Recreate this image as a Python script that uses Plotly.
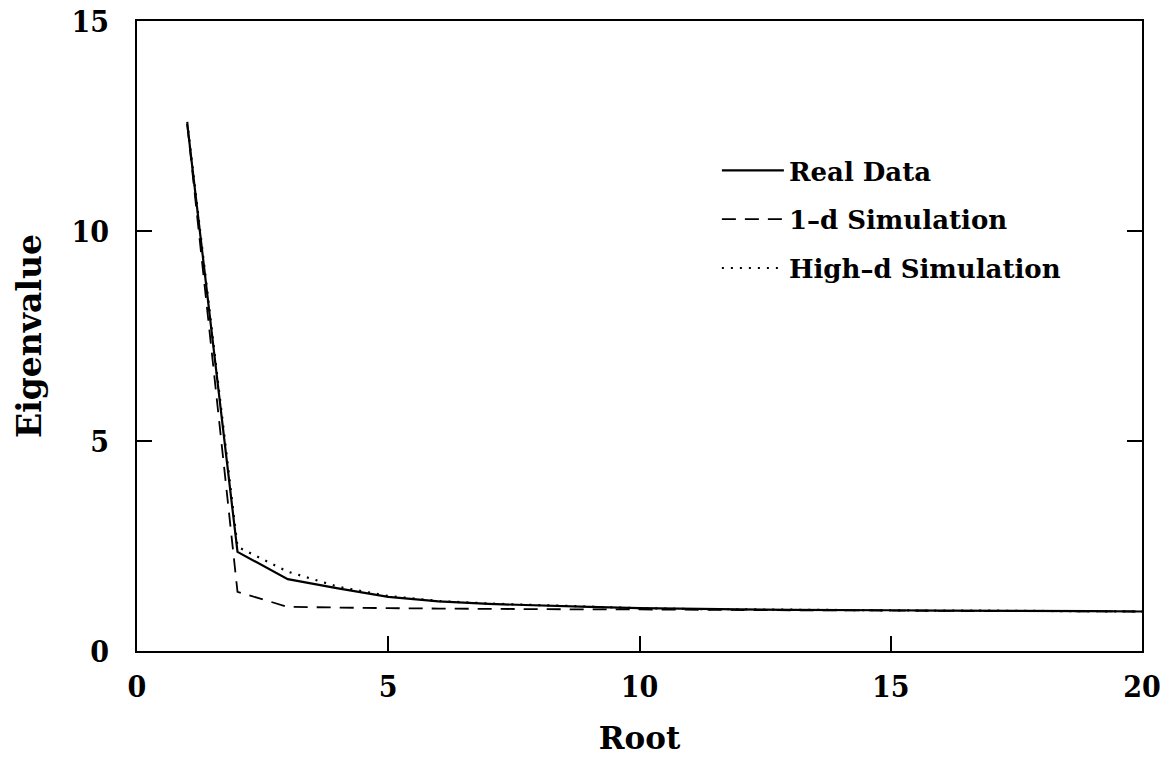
import plotly.graph_objects as go

roots = list(range(1, 21))
real_data = [12.55, 2.36, 1.71, 1.49, 1.29, 1.18, 1.12, 1.08, 1.05, 1.02,
             1.00, 0.99, 0.98, 0.98, 0.97, 0.96, 0.96, 0.95, 0.95, 0.94]
sim_1d = [12.55, 1.41, 1.05, 1.03, 1.02, 1.01, 1.00, 1.00, 0.99, 0.99,
          0.98, 0.98, 0.97, 0.97, 0.96, 0.96, 0.95, 0.95, 0.94, 0.94]
sim_highd = [12.6, 2.48, 1.89, 1.53, 1.31, 1.19, 1.13, 1.09, 1.05, 1.02,
             1.00, 0.99, 0.98, 0.98, 0.97, 0.96, 0.96, 0.95, 0.95, 0.94]

x_ticks = [0, 5, 10, 15, 20]
y_ticks = [0, 5, 10, 15]

FONT = "DejaVu Serif"
TICKFONT = dict(family="DejaVu Serif Condensed, DejaVu Serif", color="black", size=30, weight="bold")
TITLEFONT = dict(family=FONT, color="black", size=31, weight="bold")

fig = go.Figure()
fig.add_trace(go.Scatter(x=roots, y=real_data, mode="lines", name="Real Data",
                         legendgroup="a",
                         line=dict(color="black", width=2.2, dash="solid")))
fig.add_trace(go.Scatter(x=roots, y=sim_1d, mode="lines", name="1\u2013d Simulation",
                         legendgroup="b",
                         line=dict(color="black", width=1.8, dash="14px,9px")))
fig.add_trace(go.Scatter(x=roots, y=sim_highd, mode="lines", name="High\u2013d Simulation",
                         legendgroup="c",
                         line=dict(color="black", width=2.2, dash="2px,7px")))
# invisible trace to carry the right-side mirrored ticks
fig.add_trace(go.Scatter(x=[roots[0]], y=[real_data[0]], yaxis="y2", mode="markers",
                         marker=dict(opacity=0), showlegend=False, hoverinfo="skip"))

fig.update_layout(
    width=1169, height=784,
    margin=dict(l=137, r=27, t=21, b=133, autoexpand=False),
    paper_bgcolor="white", plot_bgcolor="white",
    font=dict(family=FONT, color="black", size=28),
    showlegend=True,
    legend=dict(x=0.577, y=0.80, xanchor="left", yanchor="top",
                bgcolor="rgba(0,0,0,0)",
                font=dict(size=26, family=FONT, weight="bold"),
                tracegroupgap=12, itemwidth=62),
    xaxis=dict(range=[0, 20], tickvals=x_ticks, ticktext=[str(v) for v in x_ticks],
               ticks="inside", ticklen=15, tickwidth=2, tickcolor="black",
               showline=True, linecolor="black", linewidth=2, mirror=True,
               showgrid=False, zeroline=False, ticklabelstandoff=8,
               ticklabeloverflow="allow",
               automargin=False, tickfont=TICKFONT,
               title=dict(text="Root", font=TITLEFONT, standoff=24)),
    yaxis=dict(range=[0, 15], tickvals=y_ticks, ticktext=[str(v) for v in y_ticks],
               ticks="inside", ticklen=15, tickwidth=2, tickcolor="black",
               showline=True, linecolor="black", linewidth=2, mirror=True,
               showgrid=False, zeroline=False, ticklabelstandoff=20,
               ticklabeloverflow="allow",
               automargin=False, tickfont=TICKFONT,
               title=dict(text="Eigenvalue", font=dict(TITLEFONT, size=33), standoff=20)),
    yaxis2=dict(range=[0, 15], overlaying="y", side="right", tickvals=[5, 10],
                ticks="inside", ticklen=15, tickwidth=2, tickcolor="black",
                showticklabels=False, showgrid=False, zeroline=False, showline=False,
                automargin=False),
)

# remove the browser's default 8px body margin so the figure fills the window exactly
fig.write_html("out.html",
               config={"displayModeBar": False, "staticPlot": True},
               post_script="document.body.style.margin='0';document.body.style.overflow='hidden';")
